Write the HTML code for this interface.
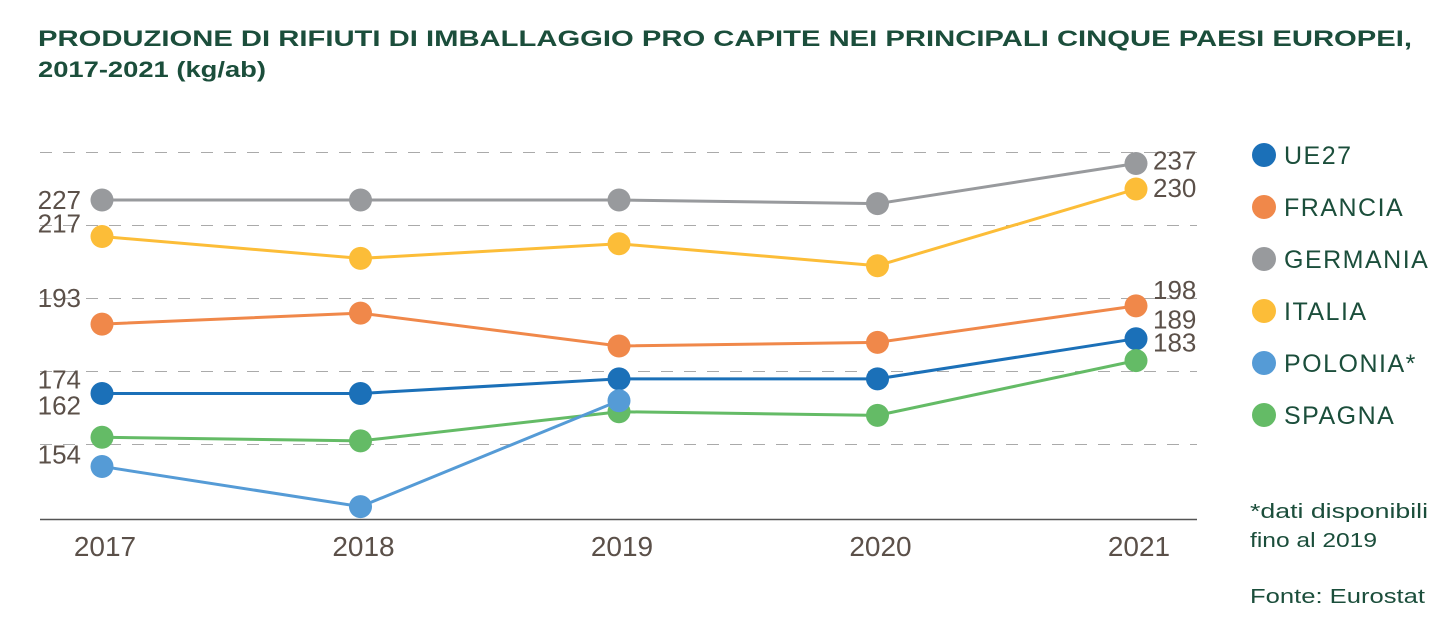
<!DOCTYPE html>
<html><head><meta charset="utf-8"><style>
body{margin:0;background:#fff;width:1452px;height:621px;overflow:hidden;font-family:"Liberation Sans",sans-serif}
</style></head><body>
<svg width="1452" height="621" xmlns="http://www.w3.org/2000/svg">
<text x="38" y="46" font-size="22" font-weight="bold" fill="#1b4e3b" textLength="1374" lengthAdjust="spacingAndGlyphs">PRODUZIONE DI RIFIUTI DI IMBALLAGGIO PRO CAPITE NEI PRINCIPALI CINQUE PAESI EUROPEI,</text>
<text x="38" y="77" font-size="22" font-weight="bold" fill="#1b4e3b" textLength="228" lengthAdjust="spacingAndGlyphs">2017-2021 (kg/ab)</text>
<g id="grid"></g><g id="series"></g><g id="labels"></g><g id="legend"></g>
<text x="1250" y="518" font-size="20" fill="#1b4e3b" textLength="178" lengthAdjust="spacingAndGlyphs">*dati disponibili</text>
<text x="1250" y="547" font-size="20" fill="#1b4e3b" textLength="127" lengthAdjust="spacingAndGlyphs">fino al 2019</text>
<text x="1250" y="603" font-size="20" fill="#1b4e3b" textLength="175" lengthAdjust="spacingAndGlyphs">Fonte: Eurostat</text>
</svg>
<script>
const years=["2017","2018","2019","2020","2021"];
const ue27=[174,174,178,178,189];
const francia=[193,196,187,188,198];
const germania=[227,227,227,226,237];
const italia=[217,211,215,209,230];
const polonia=[154,143,172];
const spagna=[162,161,169,168,183];
const gridValues=[240,220,200,180,160];
const axisMin=140;
const NS="http://www.w3.org/2000/svg";
const xs=i=>102+i*258.5;
const ys=v=>200+(227-v)*3.65;
function mk(tag,attrs,parent,txt){const e=document.createElementNS(NS,tag);for(const k in attrs)e.setAttribute(k,attrs[k]);if(txt!==undefined)e.textContent=txt;parent.appendChild(e);return e;}
const grid=document.getElementById('grid');
gridValues.forEach(v=>{const l=mk('line',{x1:40,x2:1197,y1:ys(v),y2:ys(v),stroke:'#aaa','stroke-width':1,'stroke-dasharray':'12 11'},grid);

});
const ax=mk('line',{x1:40,x2:1197,y1:ys(axisMin)+2,y2:ys(axisMin)+2,stroke:'#555','stroke-width':1.5},grid);


years.forEach((y,i)=>{const t=mk('text',{x:xs(i)+3,y:556,'text-anchor':'middle','font-size':28,fill:'#5b5049'},grid,y);

});
const series=[
{n:'germania',label:'GERMANIA',c:'#989a9d',d:germania},
{n:'italia',label:'ITALIA',c:'#fcbd38',d:italia},
{n:'francia',label:'FRANCIA',c:'#f0884a',d:francia},
{n:'ue27',label:'UE27',c:'#1b70b8',d:ue27},
{n:'spagna',label:'SPAGNA',c:'#64bb66',d:spagna},
{n:'polonia',label:'POLONIA*',c:'#559bd6',d:polonia}];
const sg=document.getElementById('series');
series.forEach(s=>{const g=mk('g',{},sg);


const p=mk('polyline',{points:s.d.map((v,i)=>xs(i)+','+ys(v)).join(' '),fill:'none',stroke:s.c,'stroke-width':3},g);


s.d.forEach((v,i)=>{const c=mk('circle',{cx:xs(i),cy:ys(v),r:11.5,fill:s.c},g);

});});
const lg=document.getElementById('labels');
const leftLabels=[[germania[0],-1],[italia[0],-14],[francia[0],-27],[ue27[0],-15],[spagna[0],-33],[polonia[0],-13]];
leftLabels.forEach(([v,dy])=>{const t=mk('text',{x:81,y:ys(v)+dy+10,'text-anchor':'end','font-size':26,fill:'#5b5049'},lg,v);

});
const rightLabels=[[germania[4],-4],[italia[4],-2],[francia[4],-17],[ue27[4],-20],[spagna[4],-19]];
rightLabels.forEach(([v,dy])=>{const t=mk('text',{x:1153,y:ys(v)+dy+10,'font-size':26,fill:'#5b5049'},lg,v);

});
const leg=document.getElementById('legend');
['ue27','francia','germania','italia','polonia','spagna'].forEach((n,i)=>{const s=series.find(q=>q.n===n);const y=155+i*52;
const g=mk('g',{},leg);


mk('circle',{cx:1264,cy:y,r:12,fill:s.c},g);
mk('text',{x:1284,y:y+9,'font-size':25,'letter-spacing':'1.5',fill:'#1b4e3b'},g,s.label);});
</script>
</body></html>
